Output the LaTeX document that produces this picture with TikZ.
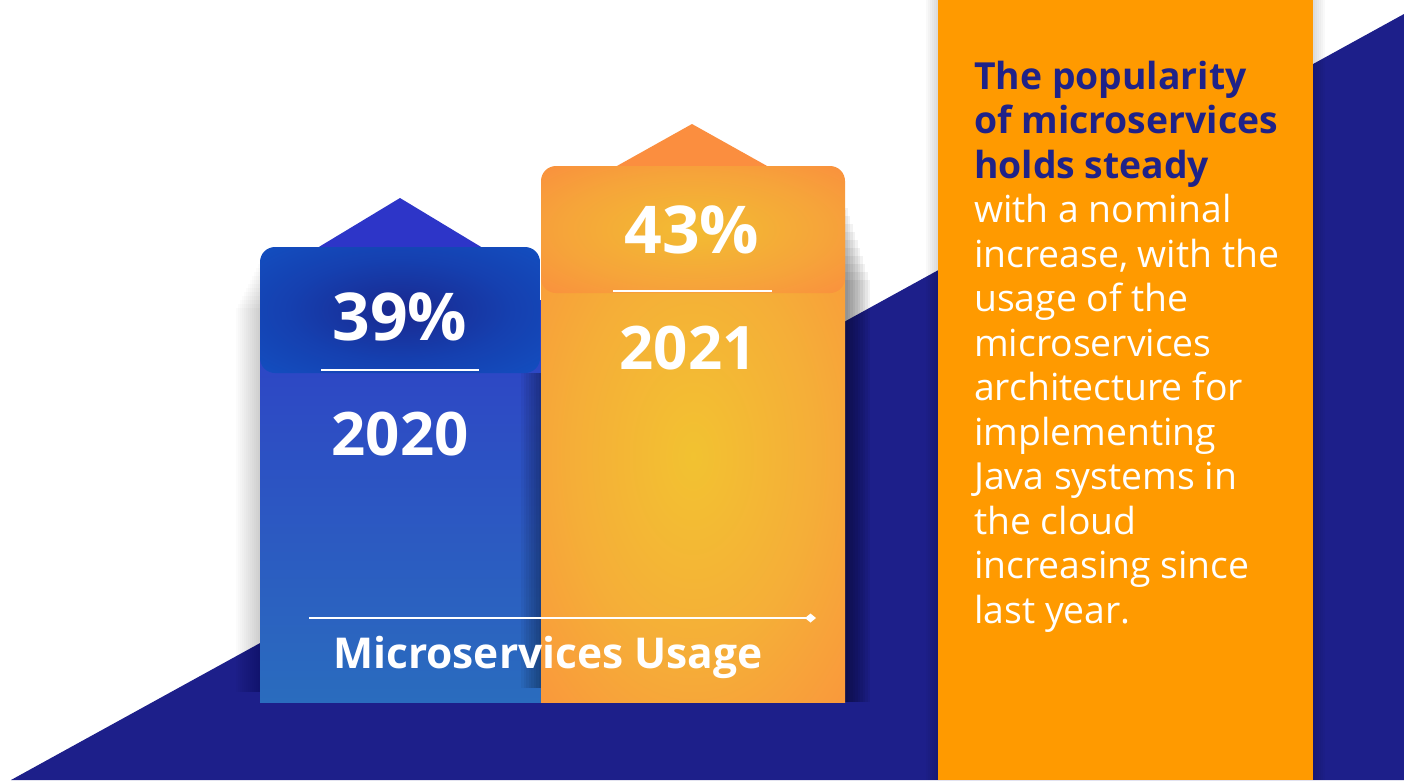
\documentclass[tikz,border=0pt]{standalone}
\usepackage{fontspec}
\setmainfont{Open Sans}
\usetikzlibrary{arrows.meta}
\definecolor{navy}{HTML}{1D1F8A}
\definecolor{panel}{HTML}{FF9A00}
\definecolor{navytext}{HTML}{1F2288}
\definecolor{btri}{HTML}{2D35C8}
\definecolor{btop}{HTML}{2E40C6}
\definecolor{bbot}{HTML}{2A6CBE}
\definecolor{bboxc}{HTML}{1A288F}
\definecolor{bboxm}{HTML}{1540B0}
\definecolor{bboxe}{HTML}{1254C6}
\definecolor{otri}{HTML}{FB8E3F}
\definecolor{oyel}{HTML}{F2C231}
\definecolor{omid}{HTML}{F5AE38}
\definecolor{oedge}{HTML}{FD8A3E}
\definecolor{oboxc}{HTML}{F2BC32}
\definecolor{oboxm}{HTML}{F6A43A}
\definecolor{oboxe}{HTML}{FB8A3F}
\pgfdeclareradialshading{oglow}{\pgfpoint{0bp}{0bp}}{color(0bp)=(oyel); color(20bp)=(omid); color(46bp)=(oedge); color(70bp)=(oedge)}
\pgfdeclareradialshading{oboxglow}{\pgfpoint{0bp}{0bp}}{color(0bp)=(oboxc); color(22bp)=(oboxm); color(40bp)=(oboxe); color(70bp)=(oboxe)}
\pgfdeclareradialshading{bglow}{\pgfpoint{0bp}{0bp}}{color(0bp)=(bboxc); color(20bp)=(bboxm); color(42bp)=(bboxe); color(70bp)=(bboxe)}
\tikzset{
  bignum/.style={text=white, font=\bfseries\fontsize{66}{66}\selectfont, inner sep=0, anchor=base},
  yearnum/.style={text=white, font=\bfseries\fontsize{60}{60}\selectfont, inner sep=0, anchor=base},
  sepline/.style={white, line width=2pt},
  boldline/.style={text=navytext, font=\bfseries\fontsize{37.3}{44}\selectfont, inner sep=0, anchor=base west},
  plainline/.style={text=white, font=\fontsize{37.3}{44}\selectfont, inner sep=0, anchor=base west},
  softshade/.style={black, opacity=#1}
}
\begin{document}
\begin{tikzpicture}[x=1pt,y=-1pt]
\useasboundingbox (0,0) rectangle (1404,780);
\fill[white] (0,0) rectangle (1404,780);
% navy diagonal background
\fill[navy] (11,780) -- (1404,14) -- (1404,780) -- cycle;
% orange panel with soft shadows
\foreach \i in {1,...,6} {
  \fill[softshade=0.022] ({938-2*\i},0) rectangle (938,780);
  \fill[softshade=0.022] (1313,0) rectangle ({1313+2*\i},780);
}
\fill[panel] (938,0) rectangle (1313,780);

% ---- blue bar (2020)
\foreach \i in {1,...,12} {
  \fill[softshade=0.016] ({260-2*\i},{260+4*\i}) rectangle (260,692);
}
\fill[btri] (400,198) -- (318,247.5) -- (482,247.5) -- cycle;
\shade[top color=btop, bottom color=bbot] (260,300) rectangle (541,702);
\shade[shading=bglow, rounded corners=15pt] (260,247) rectangle (540,373);
\foreach \i in {1,...,8} {
  \fill[softshade=0.045] ({541-2.5*\i},373) rectangle (541,688);
}

% ---- orange bar (2021)
\foreach \i in {1,...,10} {
  \fill[softshade=0.05] (845,{200+8*\i}) rectangle ({845+2.5*\i},702);
}
\fill[otri] (692,124) -- (616,166.5) -- (768,166.5) -- cycle;
\shade[shading=oglow] (541,210) rectangle (845,702);
\shade[shading=oboxglow, rounded corners=15pt] (541,166) rectangle (845,293);

% separator lines
\coordinate (b1) at (321,370);
\coordinate (b2) at (479,370);
\draw[sepline] (b1) -- (b2);
\coordinate (o1) at (613,291);
\coordinate (o2) at (772,291);
\draw[sepline] (o1) -- (o2);

% numbers
\node[bignum] (p39) at (400,340) {39\%};
\node[yearnum] (y20) at (400,455) {2020};
\node[bignum] (p43) at (692,253) {43\%};
\node[yearnum] (y21) at (688,369) {2021};

% axis line with diamond end
\coordinate (ls) at (309,618);
\coordinate (le) at (816,618);
\draw[white, line width=2.5pt, -{Diamond[length=11pt,width=9pt]}] (ls) -- (le);
\node[text=white, font=\bfseries\fontsize{42.5}{43}\selectfont, inner sep=0, anchor=base west] (usage) at (333,668) {Microservices Usage};

% right-hand text
\node[boldline] (r1) at (974,89) {The popularity};
\node[boldline] (r2) at (974,133.5) {of microservices};
\node[boldline] (r3) at (974,178) {holds steady};
\foreach \t [count=\i] in {with a nominal, {increase, with the}, usage of the, microservices, architecture for, implementing, Java systems in, the cloud, increasing since, last year.} {
  \node[plainline] (w\i) at (974,{222.5+44.5*(\i-1)}) {\t};
}
\end{tikzpicture}
\end{document}
